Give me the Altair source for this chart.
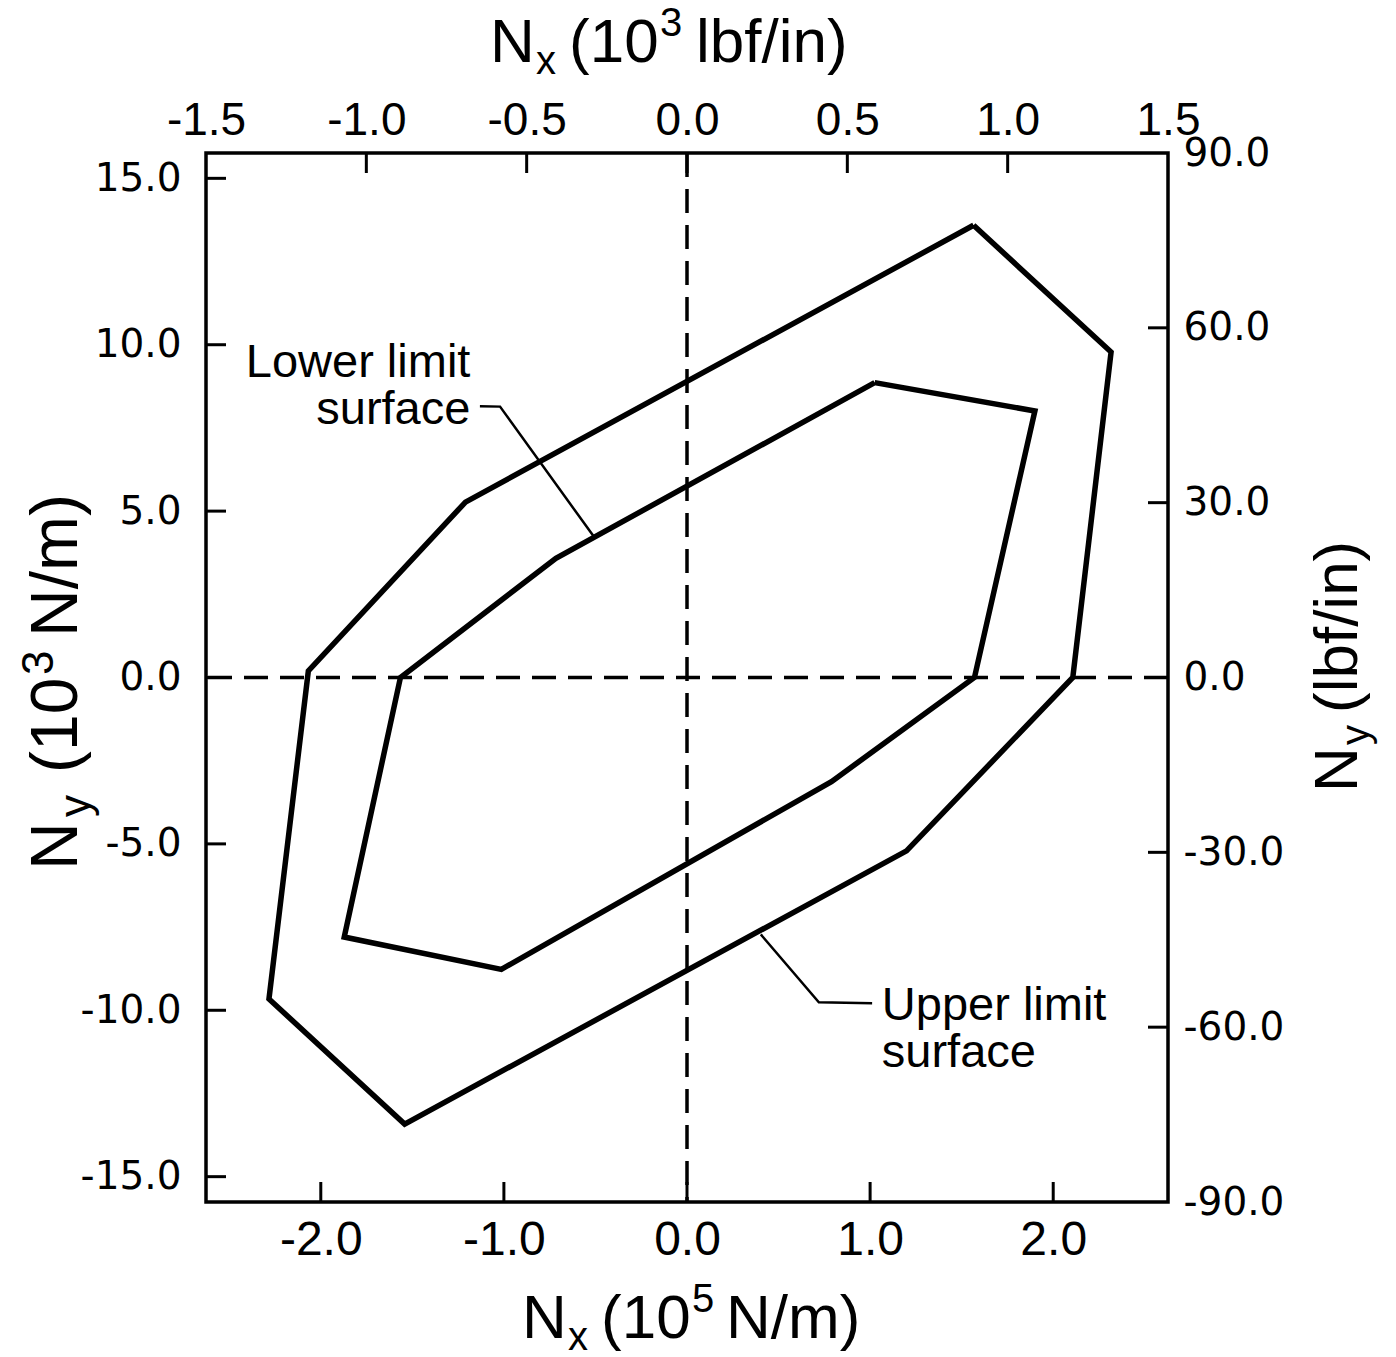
import altair as alt
import pandas as pd

# Plot area size in pixels
W, H = 962, 1049

# Limit surfaces: Nx in 1e5 N/m, Ny in 1e3 N/m (polygon vertices, in drawing order)
upper_x = [1.565, 2.316, 2.107, 1.199, -1.542, -2.283, -2.068, -1.210]
upper_y = [13.59, 9.78, 0.0, -5.21, -13.42, -9.66, 0.2, 5.27]
lower_x = [1.025, 1.900, 1.570, 0.789, -1.014, -1.872, -1.565, -0.716]
lower_y = [8.86, 8.01, 0.0, -3.13, -8.77, -7.80, 0.0, 3.58]

# Callout leader lines
lower_leader_x = [-1.131, -1.021, -0.511]
lower_leader_y = [8.15, 8.14, 4.25]
upper_leader_x = [0.403, 0.720, 1.011]
upper_leader_y = [-7.72, -9.76, -9.79]

# Axis ticks
bottom_ticks = [-2.0, -1.0, 0.0, 1.0, 2.0]                 # 1e5 N/m
left_ticks = [-15.0, -10.0, -5.0, 0.0, 5.0, 10.0, 15.0]    # 1e3 N/m
top_ticks = [-1.5, -1.0, -0.5, 0.0, 0.5, 1.0, 1.5]         # 1e3 lbf/in
right_ticks = [-90.0, -60.0, -30.0, 0.0, 30.0, 60.0, 90.0]  # lbf/in

# 1 lbf/in = 175.1268 N/m
LBF = 175.1268
X_MAX = 1.5e3 * LBF / 1e5   # 2.627 (1e5 N/m)
Y_MAX = 90.0 * LBF / 1e3    # 15.761 (1e3 N/m)

PLAIN = "Liberation Sans, Arial, sans-serif"
WIDE = "DejaVu Sans, sans-serif"


def polygon(name, xs, ys):
    xs = list(xs) + [xs[0]]
    ys = list(ys) + [ys[0]]
    return pd.DataFrame({"x": xs, "y": ys, "surface": name, "i": range(len(xs))})


surfaces = pd.concat([polygon("upper", upper_x, upper_y),
                      polygon("lower", lower_x, lower_y)], ignore_index=True)
leaders = pd.concat([
    pd.DataFrame({"x": lower_leader_x, "y": lower_leader_y, "k": "lower", "i": range(3)}),
    pd.DataFrame({"x": upper_leader_x, "y": upper_leader_y, "k": "upper", "i": range(3)}),
], ignore_index=True)

xs = alt.Scale(domain=[-X_MAX, X_MAX], nice=False, zero=False)
ys = alt.Scale(domain=[-Y_MAX, Y_MAX], nice=False, zero=False)

hyphen_1f = "(datum.value < 0 ? '-' : '') + format(abs(datum.value), '.1f')"
common = dict(labelExpr=hyphen_1f, ticks=False, domain=False, grid=False, title=None,
              labelColor="black", labelFlush=False, labelOverlap=False)

bottom_axis = alt.Axis(values=bottom_ticks, orient="bottom", labelFont=PLAIN,
                       labelFontSize=48, labelPadding=14, **common)
left_axis = alt.Axis(values=left_ticks, orient="left", labelFont=WIDE,
                     labelFontSize=39, labelPadding=25, **common)

X = lambda f: alt.X(f, scale=xs, axis=bottom_axis)
Y = lambda f: alt.Y(f, scale=ys, axis=left_axis)

lines = alt.Chart(surfaces).mark_line(color="black", strokeWidth=5.5, strokeJoin="miter").encode(
    x=X("x:Q"), y=Y("y:Q"), detail="surface:N", order="i:Q")

leader_lines = alt.Chart(leaders).mark_line(color="black", strokeWidth=2.5).encode(
    x=X("x:Q"), y=Y("y:Q"), detail="k:N", order="i:Q")

zero_df = pd.DataFrame({"v": [0.0]})
vdash = alt.Chart(zero_df).mark_rule(color="black", strokeWidth=3.5, strokeDash=[24, 12]).encode(
    x=X("v:Q"))
hdash = alt.Chart(zero_df).mark_rule(color="black", strokeWidth=3.5, strokeDash=[24, 12]).encode(
    y=Y("v:Q"))

# Callout labels, one line per text mark (second line set 47 px lower)
notes = pd.DataFrame({"x": [-1.183, 1.064], "y": [9.02, -10.30]})


def note_line(row, text, align, dy):
    return alt.Chart(notes.iloc[[row]]).mark_text(
        text=text, align=align, baseline="alphabetic", dy=dy,
        font=PLAIN, fontSize=47, color="black").encode(x=X("x:Q"), y=Y("y:Q"))


note_marks = [
    note_line(0, "Lower limit", "right", 0), note_line(0, "surface", "right", 47),
    note_line(1, "Upper limit", "left", 0), note_line(1, "surface", "left", 47),
]

TICK = 20
bt = alt.Chart(pd.DataFrame({"v": bottom_ticks})).mark_rule(color="black", strokeWidth=3).encode(
    x=X("v:Q"), y=alt.value(H), y2=alt.value(H - TICK))
lt = alt.Chart(pd.DataFrame({"v": left_ticks})).mark_rule(color="black", strokeWidth=3).encode(
    y=Y("v:Q"), x=alt.value(0), x2=alt.value(TICK))


def piece(text, x, y, size, angle=0):
    return alt.Chart(alt.Data(values=[{}])).mark_text(
        text=text, align="left", baseline="alphabetic", font=PLAIN,
        fontSize=size, angle=angle, color="black").encode(x=alt.value(x), y=alt.value(y))


titles = [
    # bottom: Nx (10^5 N/m)
    piece("N", 316, 1185, 62), piece("x", 362, 1197, 40), piece("(10", 395, 1185, 62),
    piece("5", 486, 1159, 40), piece("N/m)", 520, 1185, 62),
    # top: Nx (10^3 lbf/in)
    piece("N", 284, -91, 62), piece("x", 330, -79, 40), piece("(10", 363, -91, 62),
    piece("3", 454, -117, 40), piece("lbf/in)", 490, -91, 62),
    # left: Ny (10^3 N/m)
    piece("N", -129, 717, 66, 270), piece("y", -116, 664, 44, 270), piece("(10", -129, 620, 66, 270),
    piece("3", -153, 522, 44, 270), piece("N/m)", -129, 484, 66, 270),
    # right: Ny (lbf/in)
    piece("N", 1151, 639, 62, 270), piece("y", 1163, 592, 40, 270),
    piece("(lbf/in)", 1151, 560, 62, 270),
]

main = alt.layer(lines, leader_lines, vdash, hdash, *note_marks, bt, lt, *titles)

# Secondary scales: top axis in 1e3 lbf/in, right axis in lbf/in
top_axis = alt.Axis(values=top_ticks, orient="top", labelFont=PLAIN, labelFontSize=46,
                    labelPadding=9, **common)
right_axis = alt.Axis(values=right_ticks, orient="right", labelFont=WIDE,
                      labelFontSize=39, labelPadding=15, **common)

top = alt.Chart(pd.DataFrame({"v": [-1.0, -0.5, 0.0, 0.5, 1.0]})).mark_rule(
    color="black", strokeWidth=3).encode(
    x=alt.X("v:Q", scale=alt.Scale(domain=[-1.5, 1.5], nice=False, zero=False), axis=top_axis),
    y=alt.value(0), y2=alt.value(TICK))
right = alt.Chart(pd.DataFrame({"v": [-60.0, -30.0, 0.0, 30.0, 60.0]})).mark_rule(
    color="black", strokeWidth=3).encode(
    y=alt.Y("v:Q", scale=alt.Scale(domain=[-90, 90], nice=False, zero=False), axis=right_axis),
    x=alt.value(W), x2=alt.value(W - TICK))

chart = alt.layer(main, top, right).resolve_scale(
    x="independent", y="independent"
).properties(
    width=W, height=H,
    padding={"left": 206, "top": 153, "right": 228, "bottom": 155},
    autosize=alt.AutoSizeParams(type="none"),
    background="white",
).configure_view(stroke="black", strokeWidth=3.5)

chart.save("out.html", embed_options={"renderer": "svg", "actions": False})
